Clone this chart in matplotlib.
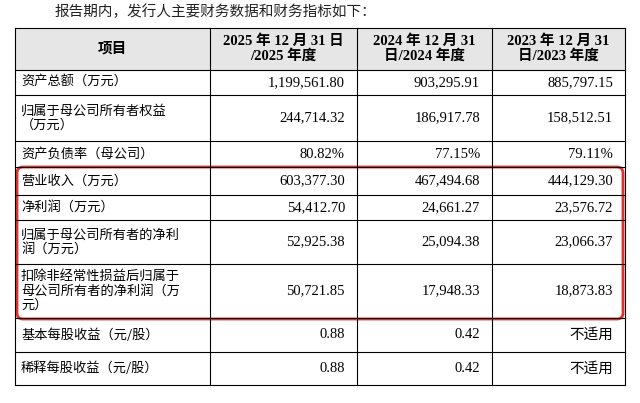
import matplotlib
matplotlib.use("Agg")
import matplotlib.pyplot as plt
from matplotlib.patches import Rectangle, FancyBboxPatch

plt.rcParams['font.family'] = ['Noto Sans CJK SC', 'DejaVu Sans']
serif = ['Liberation Serif', 'Noto Sans CJK SC']

title = "报告期内，发行人主要财务数据和财务指标如下："
headers = ["项目", "2025 年 12 月 31 日\n/2025 年度", "2024 年 12 月 31\n日/2024 年度", "2023 年 12 月 31\n日/2023 年度"]
items = ["资产总额（万元）", "归属于母公司所有者权益\n（万元）", "资产负债率（母公司）", "营业收入（万元）",
         "净利润（万元）", "归属于母公司所有者的净利\n润（万元）", "扣除非经常性损益后归属于\n母公司所有者的净利润（万\n元）",
         "基本每股收益（元/股）", "稀释每股收益（元/股）"]
v2025 = ["1,199,561.80", "244,714.32", "80.82%", "603,377.30", "54,412.70", "52,925.38", "50,721.85", "0.88", "0.88"]
v2024 = ["903,295.91", "186,917.78", "77.15%", "467,494.68", "24,661.27", "25,094.38", "17,948.33", "0.42", "0.42"]
v2023 = ["885,797.15", "158,512.51", "79.11%", "444,129.30", "23,576.72", "23,066.37", "18,873.83", "不适用", "不适用"]

cols = [15, 210, 357, 492, 625]
rows = [28, 70, 95, 141, 167, 195, 220, 264, 318, 352, 385]

fig = plt.figure(figsize=(6.4, 4.03), dpi=100)
ax = fig.add_axes([0, 0, 1, 1])
ax.set_xlim(0, 640)
ax.set_ylim(403, 0)
ax.axis('off')

ax.text(55, 12, title, fontsize=10.5, va='center', ha='left', color='#222')
ax.add_patch(Rectangle((cols[0], rows[0]), cols[-1] - cols[0], rows[1] - rows[0], color='#e6e6e6', lw=0))

for y in rows:
    ax.plot([cols[0], cols[-1]], [y, y], color='black', lw=0.8)
for x in cols:
    ax.plot([x, x], [rows[0], rows[-1]], color='black', lw=0.8)

for i, h in enumerate(headers):
    ax.text((cols[i] + cols[i + 1]) / 2, (rows[0] + rows[1]) / 2, h, ha='center', va='center',
            fontsize=10.5, fontweight='bold', linespacing=1.1, family=serif)

for r, name in enumerate(items):
    yc = (rows[r + 1] + rows[r + 2]) / 2
    ax.text(cols[0] + 6, yc, name, ha='left', va='center', fontsize=9.5, linespacing=1.15)
    for c, vals in enumerate([v2025, v2024, v2023]):
        ax.text(cols[c + 2] - 12, yc, vals[r], ha='right', va='center', fontsize=10.5, family=serif)

ax.add_patch(FancyBboxPatch((cols[0] + 2, 167), cols[-1] - cols[0] - 4, 152,
                            boxstyle="round,pad=0,rounding_size=6", fill=False,
                            edgecolor='#e03030', lw=2))

fig.savefig("out.png", dpi=100)
